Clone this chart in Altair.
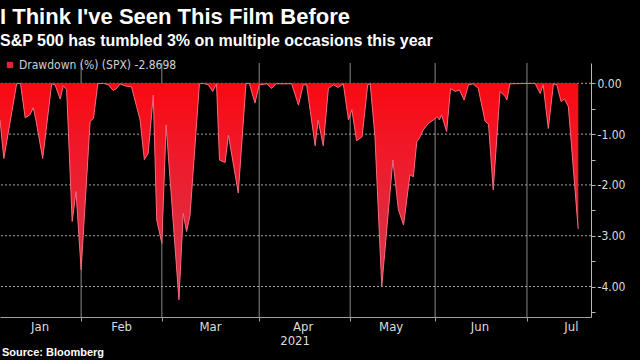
import altair as alt
import pandas as pd

# ---- data (trading-day index since Jan 4, drawdown in %) ----
days = [0.0, 0.9, 3.9, 4.8, 5.9, 7.0, 7.8, 8.4, 10.0, 12.1, 12.9, 14.1, 14.8, 15.6, 16.9, 17.8,
        19.0, 21.1, 21.9, 22.9, 24.2, 25.4, 26.5, 27.3, 28.1, 29.3, 30.8, 32.0, 32.8, 33.8, 34.7,
        35.9, 36.7, 37.9, 38.9, 41.9, 42.9, 43.7, 44.5, 46.7, 47.6, 48.8, 49.8, 50.7, 51.4, 52.7,
        53.5, 55.8, 57.6, 58.4, 59.7, 60.7, 62.5, 63.6, 64.6, 68.3, 69.9, 71.0, 71.8, 73.8, 74.5,
        75.7, 76.9, 78.1, 79.2, 80.4, 81.6, 82.4, 83.5, 84.8, 86.1, 86.7, 87.8, 89.4, 92.0, 93.3,
        94.5, 96.0, 96.8, 97.6, 98.4, 99.1, 100.3, 101.5, 102.3, 102.9, 103.4, 104.6, 105.5, 106.6,
        107.6, 108.7, 109.7, 110.8, 112.0, 113.6, 114.4, 115.5, 117.1, 118.3, 118.7, 119.4, 125.3,
        126.5, 127.2, 128.4, 129.6, 130.4, 131.4, 132.2, 133.1, 135.4]
drawdown = [-0.72, -1.48, -0.01, 0.0, -0.68, -0.62, -0.48, -0.72, -1.48, -0.01, -0.03, -0.31, -0.05,
            -0.12, -2.72, -2.13, -3.67, -0.75, -0.69, -0.01, 0.0, -0.03, -0.14, -0.10, -0.01, -0.05,
            -0.07, -0.46, -0.72, -1.50, -1.38, -0.23, -2.69, -3.15, -0.82, -4.26, -2.56, -2.92, -2.6,
            -0.01, 0.0, -0.03, -0.16, -0.01, -1.51, -1.56, -1.02, -2.16, -0.01, 0.0, -0.39, -0.03,
            -0.01, -0.10, -0.01, -0.01, -0.43, -0.03, -0.03, -1.23, -0.72, -1.23, -0.10, -0.03, -0.08,
            -0.01, -0.72, -0.52, -1.13, -1.05, -0.03, -0.01, -1.04, -4.00, -1.51, -2.49, -2.79, -1.80,
            -1.84, -1.15, -1.05, -0.92, -0.79, -0.72, -0.66, -0.72, -0.62, -0.95, -0.10, -0.16, -0.13,
            -0.33, -0.03, -0.01, -0.10, -0.75, -0.80, -2.10, -0.16, -0.26, -0.33, -0.01, 0.0, -0.20,
            -0.03, -0.89, -0.01, -0.03, -0.36, -0.31, -0.46, -2.8698]
series_name = "Drawdown (%) (SPX) -2.8698"

month_starts = [19.0, 37.9, 60.7, 82.0, 101.9, 123.4]
month_names = ["Jan", "Feb", "Mar", "Apr", "May", "Jun", "Jul"]
month_mids = [9.4, 28.5, 49.3, 71.0, 91.6, 112.4, 133.8]
year_label = ["2021"]
year_pos = [69.1]
grid_values = [0, -1, -2, -3, -4]
y_tick_values = [0, -0.5, -1, -1.5, -2, -2.5, -3, -3.5, -4, -4.5]
y_top, y_bottom = 0.4, -4.6

W, H = 591, 254
NARROW = "Liberation Sans Narrow, DejaVu Sans Condensed, sans-serif"
BOLD = "Liberation Sans, Arial, sans-serif"
GRID = "#a8a8a8"

x_scale = alt.Scale(domain=[0, 138.4], nice=False, zero=False)
y_scale = alt.Scale(domain=[y_bottom, y_top], nice=False, zero=False)

x_axis = alt.Axis(values=month_starts, labels=False, title=None, grid=False,
                  ticks=True, tickSize=4, tickColor="#a0a0a0",
                  domain=True, domainColor="#a0a0a0")
y_axis = alt.Axis(orient="right", values=y_tick_values, title=None, grid=False,
                  labelExpr="datum.value % 1 == 0 ? replace(format(datum.value, '.2f'), '\u2212', '-') : ''",
                  labelFont=NARROW, labelFontSize=12, labelColor="#dcdcdc", labelPadding=2,
                  ticks=True, tickSize=4, tickColor="#b8b8b8",
                  domain=True, domainColor="#b8b8b8")

df = pd.DataFrame({"day": days, "dd": drawdown, "series": series_name})

hgrid = alt.Chart(pd.DataFrame({"g": grid_values})).mark_rule(
    color=GRID, strokeDash=[2, 2], strokeWidth=1
).encode(y=alt.Y("g:Q", scale=y_scale, axis=y_axis))

vgrid = alt.Chart(pd.DataFrame({"m": month_starts, "top": y_top, "bottom": y_bottom})).mark_rule(
    color="#8a8a8a", strokeWidth=1
).encode(
    x=alt.X("m:Q", scale=x_scale, axis=x_axis),
    y=alt.Y("top:Q", scale=y_scale, axis=y_axis),
    y2="bottom:Q"
)

area_key = alt.Chart(df).mark_area(opacity=1).encode(
    x=alt.X("day:Q", scale=x_scale, axis=x_axis),
    y=alt.Y("dd:Q", scale=y_scale, axis=y_axis, stack=None),
    color=alt.Color("series:N",
                    scale=alt.Scale(domain=[series_name], range=["#e8203a"]),
                    legend=alt.Legend(title=None, orient="none", legendX=4, legendY=-4,
                                      padding=0, symbolType="square", symbolSize=40,
                                      symbolStrokeWidth=0, labelOffset=3,
                                      labelFont=NARROW, labelFontSize=12,
                                      labelColor="#d0d0d0"))
)

area_grad = alt.Chart(df).mark_area(
    fill=alt.Gradient(
        gradient="linear",
        stops=[alt.GradientStop(color="#ff0000", offset=0),
               alt.GradientStop(color="#f41420", offset=0.3),
               alt.GradientStop(color="#c9485c", offset=1)],
        x1=0, x2=0, y1=0, y2=1),
    line={"color": "#f36a7c", "strokeWidth": 1}
).encode(
    x=alt.X("day:Q", scale=x_scale, axis=x_axis),
    y=alt.Y("dd:Q", scale=y_scale, axis=y_axis, stack=None),
)

months = alt.Chart(pd.DataFrame({"pos": month_mids, "name": month_names})).mark_text(
    font=NARROW, fontSize=13, color="#dcdcdc", baseline="middle", align="center"
).encode(x=alt.X("pos:Q", scale=x_scale, axis=x_axis), y=alt.value(H + 10), text="name:N")

year = alt.Chart(pd.DataFrame({"pos": year_pos, "name": year_label})).mark_text(
    font=NARROW, fontSize=13, color="#dcdcdc", baseline="middle", align="center"
).encode(x=alt.X("pos:Q", scale=x_scale, axis=x_axis), y=alt.value(H + 24), text="name:N")

source = alt.Chart(pd.DataFrame({"t": ["Source: Bloomberg"]})).mark_text(
    font=BOLD, fontSize=11, fontWeight="bold", color="#ffffff", baseline="middle", align="left"
).encode(x=alt.value(2), y=alt.value(H + 36), text="t:N")

chart = alt.layer(vgrid, hgrid, area_key, area_grad, months, year, source).properties(
    width=W, height=H,
    autosize=alt.AutoSizeParams(type="none"),
    padding={"left": 0, "top": 63, "right": 640 - W, "bottom": 360 - 63 - H},
    background="#000000",
    title=alt.TitleParams(
        text="I Think I've Seen This Film Before",
        subtitle="S&P 500 has tumbled 3% on multiple occasions this year",
        anchor="start", frame="group", color="#ffffff", subtitleColor="#ffffff",
        font=BOLD, fontSize=22, fontWeight="bold",
        subtitleFont=BOLD, subtitleFontSize=16, subtitleFontWeight="bold",
        offset=9, subtitlePadding=4, dx=0)
).configure_view(stroke=None)

chart.save("out.html", embed_options={"renderer": "svg", "actions": False})
